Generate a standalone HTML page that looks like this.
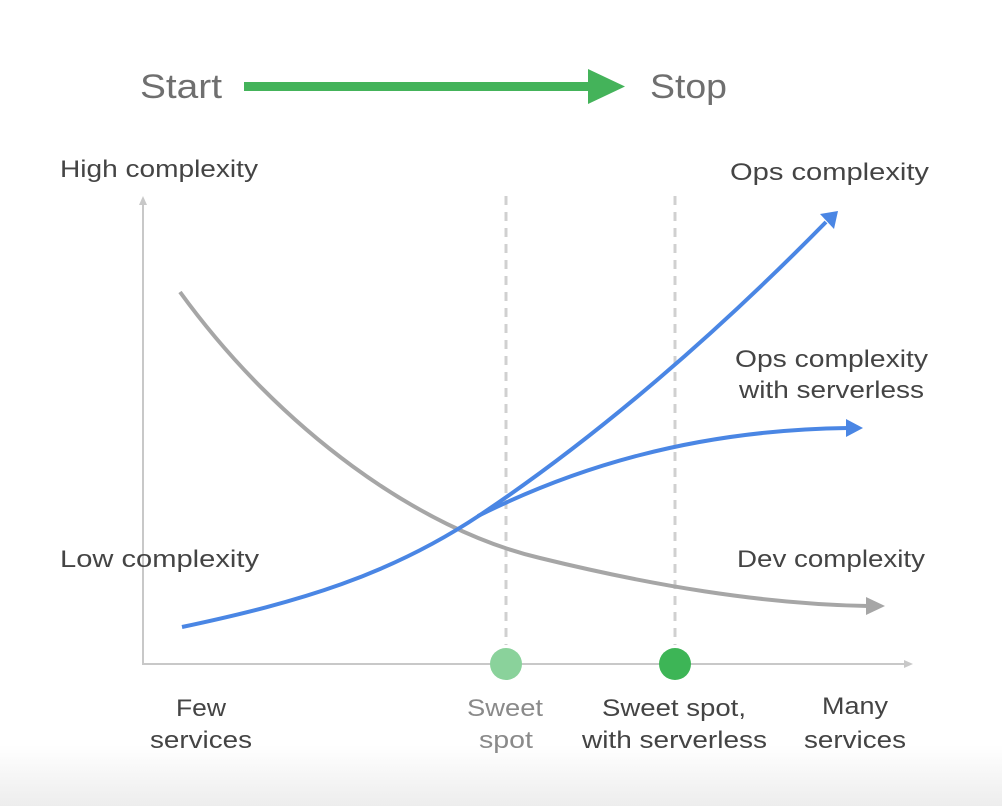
<!DOCTYPE html>
<html><head><meta charset="utf-8"><style>
html,body{margin:0;padding:0;background:#fff;}
body{width:1002px;height:806px;overflow:hidden;position:relative;}
.bg{position:absolute;left:0;top:745px;width:1002px;height:61px;background:linear-gradient(#fff,#ededed);}
svg{position:absolute;left:0;top:0;}
text{font-family:"Liberation Sans",sans-serif;}
</style></head><body>
<div class="bg"></div>
<svg width="1002" height="806" viewBox="0 0 1002 806">
<text x="140" y="98" font-size="34" fill="#6f6f6f" textLength="82" lengthAdjust="spacingAndGlyphs">Start</text>
<rect x="244" y="82" width="348" height="9" fill="#44b35a"/>
<polygon points="588,69 625,86.5 588,104" fill="#44b35a"/>
<text x="650" y="98" font-size="34" fill="#6f6f6f" textLength="77" lengthAdjust="spacingAndGlyphs">Stop</text>

<g stroke="#c8c8c8" stroke-width="2" fill="none">
<line x1="143" y1="202" x2="143" y2="665"/>
<line x1="143" y1="664" x2="908" y2="664"/>
</g>
<polygon points="139,205 143,196 147,205" fill="#c8c8c8"/>
<polygon points="904,660 913,664 904,668" fill="#c8c8c8"/>
<g stroke="#d0d0d0" stroke-width="3" stroke-dasharray="9,7">
<line x1="506" y1="196" x2="506" y2="645"/>
<line x1="675" y1="196" x2="675" y2="645"/>
</g>
<ellipse cx="506" cy="664" rx="16" ry="16" fill="#8ad29b"/>
<ellipse cx="675" cy="664" rx="16" ry="16" fill="#3db556"/>

<path d="M180,292 C 280,430 420,530 540,558 C 650,585 760,604 868,606" stroke="#a6a6a6" stroke-width="4" fill="none"/>
<polygon points="866,597 885,606 866,615" fill="#a6a6a6"/>

<path d="M182,627 C 300,602 390,575 480,515 C 600,435 720,330 826,222" stroke="#4a86e4" stroke-width="4" fill="none"/>
<polygon points="820,214 838,211 834,229" fill="#4a86e4"/>
<path d="M478,516 C 570,470 690,430 848,428" stroke="#4a86e4" stroke-width="4" fill="none"/>
<polygon points="846,419 863,428 846,437" fill="#4a86e4"/>

<g font-size="24" fill="#444">
<text x="60" y="177" textLength="198" lengthAdjust="spacingAndGlyphs">High complexity</text>
<text x="60" y="567" textLength="199" lengthAdjust="spacingAndGlyphs">Low complexity</text>
<text x="730" y="180" textLength="199" lengthAdjust="spacingAndGlyphs">Ops complexity</text>
<text x="735" y="367" textLength="193" lengthAdjust="spacingAndGlyphs">Ops complexity</text>
<text x="739" y="398" textLength="185" lengthAdjust="spacingAndGlyphs">with serverless</text>
<text x="737" y="567" textLength="188" lengthAdjust="spacingAndGlyphs">Dev complexity</text>
<text x="176" y="716" textLength="50" lengthAdjust="spacingAndGlyphs">Few</text>
<text x="150" y="748" textLength="102" lengthAdjust="spacingAndGlyphs">services</text>
<text x="467" y="716" fill="#8a8a8a" textLength="76" lengthAdjust="spacingAndGlyphs">Sweet</text>
<text x="479" y="748" fill="#8a8a8a" textLength="54" lengthAdjust="spacingAndGlyphs">spot</text>
<text x="602" y="716" textLength="144" lengthAdjust="spacingAndGlyphs">Sweet spot,</text>
<text x="582" y="748" textLength="185" lengthAdjust="spacingAndGlyphs">with serverless</text>
<text x="822" y="714" textLength="66" lengthAdjust="spacingAndGlyphs">Many</text>
<text x="804" y="748" textLength="102" lengthAdjust="spacingAndGlyphs">services</text>
</g>
</svg>
</body></html>
